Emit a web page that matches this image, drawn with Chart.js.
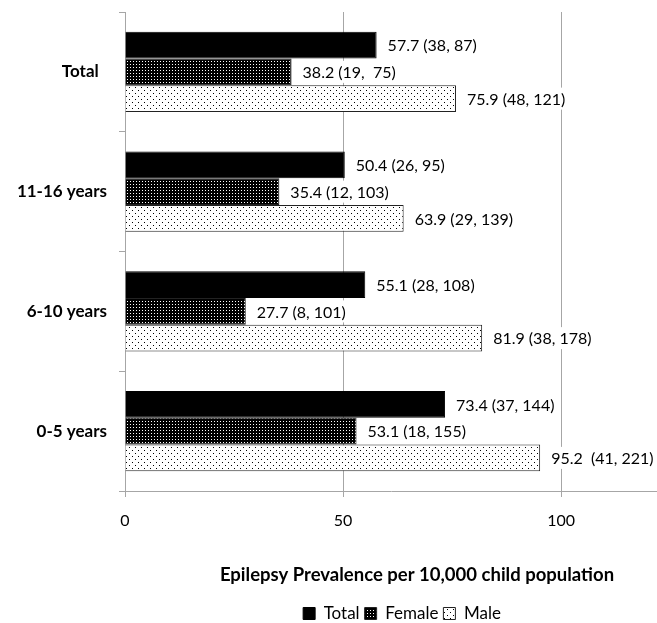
<!DOCTYPE html>
<html>
<head>
<meta charset="utf-8">
<script src="https://cdn.jsdelivr.net/npm/chart.js@4"></script>
<style>
  html, body { margin: 0; padding: 0; background: #fff; }
  #wrap { width: 657px; height: 623px; position: relative; }
</style>
</head>
<body>
<div id="wrap"><canvas id="barchart"></canvas></div>
<script>
var categories = ["Total  ", "11-16 years", "6-10 years", "0-5 years"];
var totalData = [57.7, 50.4, 55.1, 73.4];
var femaleData = [38.2, 35.4, 27.7, 53.1];
var maleData = [75.9, 63.9, 81.9, 95.2];
var totalCI = ["(38, 87)", "(26, 95)", "(28, 108)", "(37, 144)"];
var femaleCI = ["(19,  75)", "(12, 103)", "(8, 101)", "(18, 155)"];
var maleCI = ["(48, 121)", "(29, 139)", "(38, 178)", " (41, 221)"];
var xTicks = [0, 50, 100];
var xTitle = "Epilepsy Prevalence per 10,000 child population";

function makePattern(bg, fg, size, dots) {
  var c = document.createElement("canvas");
  c.width = size; c.height = size;
  var g = c.getContext("2d");
  g.fillStyle = bg;
  g.fillRect(0, 0, size, size);
  g.fillStyle = fg;
  dots.forEach(function (d) { g.fillRect(d[0], d[1], 1, 1); });
  return g.createPattern(c, "repeat");
}

var femalePattern = makePattern("#000", "#fff", 3, [[1, 1]]);
var malePattern = makePattern("#fff", "#000", 6, [[0, 0], [3, 3]]);

// value labels to the right of each bar + axis title placed like the original
var valueLabels = {
  id: "valueLabels",
  afterLayout: function (chart) {
    // the original legend sits a bit lower and right of centre
    var lg = chart.legend;
    lg.top += 9; lg.bottom += 9;
    lg.left += 11; lg.right += 11;
  },
  afterDatasetsDraw: function (chart) {
    var ctx = chart.ctx;
    var cis = [totalCI, femaleCI, maleCI];
    ctx.save();
    ctx.font = "16px Lato";
    ctx.textBaseline = "middle";
    chart.data.datasets.forEach(function (ds, i) {
      chart.getDatasetMeta(i).data.forEach(function (bar, j) {
        var txt = ds.data[j].toFixed(1) + " " + cis[i][j];
        var w = ctx.measureText(txt).width;
        var x = bar.x + 11;
        ctx.fillStyle = "#fff";
        ctx.fillRect(bar.x + 2, bar.y - 11, w + 15, 22);
        ctx.fillStyle = "#000";
        ctx.fillText(txt, x, bar.y + 1);
      });
    });
    ctx.restore();
  },
  afterDraw: function (chart) {
    var ctx = chart.ctx;
    var area = chart.chartArea;
    ctx.save();
    ctx.font = "bold 18.5px Lato";
    ctx.fillStyle = "#000";
    ctx.textAlign = "center";
    ctx.textBaseline = "middle";
    ctx.fillText(xTitle, (area.left + area.right) / 2 + 26, chart.scales.x.top + 84);
    ctx.restore();
  }
};

var ctx = document.getElementById("barchart").getContext("2d");

var chart = new Chart(ctx, {
  type: "bar",
  data: {
    labels: categories,
    datasets: [
      { label: "Total", data: totalData, backgroundColor: "#000", borderColor: "#000", borderWidth: 1 },
      { label: "Female", data: femaleData, backgroundColor: femalePattern, borderColor: "#222", borderWidth: 1 },
      { label: "Male", data: maleData, backgroundColor: malePattern, borderColor: "#222", borderWidth: 1 }
    ]
  },
  options: {
    indexAxis: "y",
    responsive: true,
    maintainAspectRatio: false,
    animation: false,
    layout: { padding: { top: 12, right: 0, left: 0, bottom: 0 } },
    datasets: {
      bar: { categoryPercentage: 0.67, barPercentage: 1 }
    },
    scales: {
      x: {
        min: 0,
        max: 122,
        afterBuildTicks: function (axis) {
          axis.ticks = xTicks.map(function (v) { return { value: v }; });
        },
        afterFit: function (axis) { axis.height = 100; },
        grid: { color: "#a6a6a6", tickLength: 6 },
        border: { color: "#a6a6a6" },
        ticks: { color: "#000", font: { family: "Lato", size: 16 }, padding: 14 }
      },
      y: {
        afterFit: function (axis) {
          axis.width = 125;
          axis.paddingTop = 0;
          axis.paddingBottom = 0;
        },
        grid: { offset: true, drawOnChartArea: false, color: "#a6a6a6", tickLength: 6 },
        border: { color: "#a6a6a6" },
        ticks: { color: "#000", font: { family: "Lato", size: 17, weight: "bold" }, padding: 12 }
      }
    },
    plugins: {
      legend: {
        position: "bottom",
        fullSize: false,
        labels: {
          color: "#000",
          font: { family: "Lato", size: 17 },
          boxWidth: 12,
          boxHeight: 12,
          padding: 5
        }
      },
      tooltip: { enabled: false }
    }
  },
  plugins: [valueLabels]
});
</script>
</body>
</html>
